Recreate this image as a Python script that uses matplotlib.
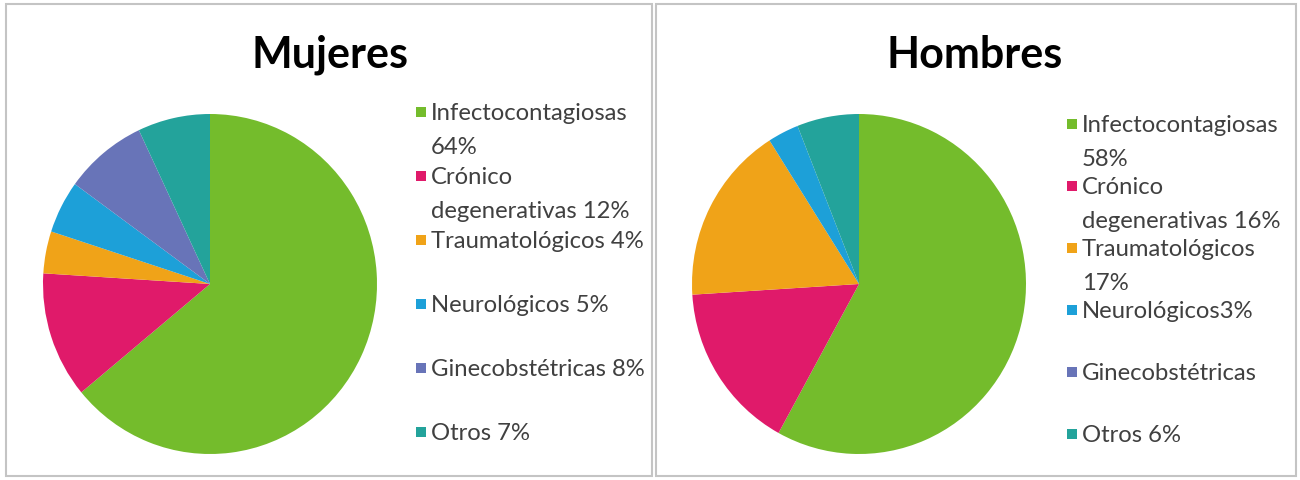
import matplotlib.pyplot as plt
from matplotlib.patches import Rectangle

# Datos
categorias = ["Infectocontagiosas", "Crónico degenerativas", "Traumatológicos",
              "Neurológicos", "Ginecobstétricas", "Otros"]
mujeres = [64, 12, 4, 5, 8, 7]
hombres = [58, 16, 17, 3, 0, 6]

etiquetas_mujeres = ["Infectocontagiosas\n64%", "Crónico\ndegenerativas 12%",
                     "Traumatológicos 4%", "Neurológicos 5%",
                     "Ginecobstétricas 8%", "Otros 7%"]
etiquetas_hombres = ["Infectocontagiosas\n58%", "Crónico\ndegenerativas 16%",
                     "Traumatológicos\n17%", "Neurológicos3%",
                     "Ginecobstétricas", "Otros 6%"]

colores = ["#74BC2C", "#E01A6A", "#F0A318", "#1DA0D8", "#6874B8", "#23A39B"]

W, H = 1300, 481
fig = plt.figure(figsize=(13, 4.81), dpi=100)
fig.patch.set_facecolor("white")

def px(x, y, w, h):
    # caja en pixeles (origen arriba-izquierda) -> fraccion de figura
    return [x / W, (H - y - h) / H, w / W, h / H]

# Marcos de los paneles
for x0, x1 in [(6, 652), (656, 1296)]:
    fig.patches.append(Rectangle((x0 / W, 4 / H), (x1 - x0) / W, (476 - 4) / H,
                                 transform=fig.transFigure, fill=False,
                                 edgecolor="#c4c4c4", linewidth=1.5))

paneles = [
    ("Mujeres", mujeres, etiquetas_mujeres, 43, 330, 421, 113, 64),
    ("Hombres", hombres, etiquetas_hombres, 692, 975, 1072, 125, 62),
]

for titulo, valores, etiquetas, pie_x, tit_x, ley_x, ley_y, paso in paneles:
    ax = fig.add_axes(px(pie_x, 115, 334, 340))
    ax.pie(valores, colors=colores, startangle=90, counterclock=False,
           wedgeprops=dict(linewidth=0))
    ax.set_aspect("auto")
    ax.set_xlim(-1, 1)
    ax.set_ylim(-1, 1)
    ax.axis("off")

    fig.text(tit_x / W, 1 - 55 / H, titulo, fontsize=31, fontweight="bold",
             family="Lato", ha="center", va="center", color="black")

    for i, (etq, col) in enumerate(zip(etiquetas, colores)):
        y = ley_y + i * paso
        fig.patches.append(Rectangle(((ley_x - 5) / W, 1 - (y + 5) / H), 10 / W, 10 / H,
                                     transform=fig.transFigure, facecolor=col,
                                     edgecolor="none"))
        fig.text((ley_x + 10) / W, 1 - (y - 9.5) / H, etq, fontsize=17.2,
                 family="Lato", ha="left", va="top", color="#404040",
                 linespacing=1.72)

fig.savefig("out.png", dpi=100, facecolor="white")
